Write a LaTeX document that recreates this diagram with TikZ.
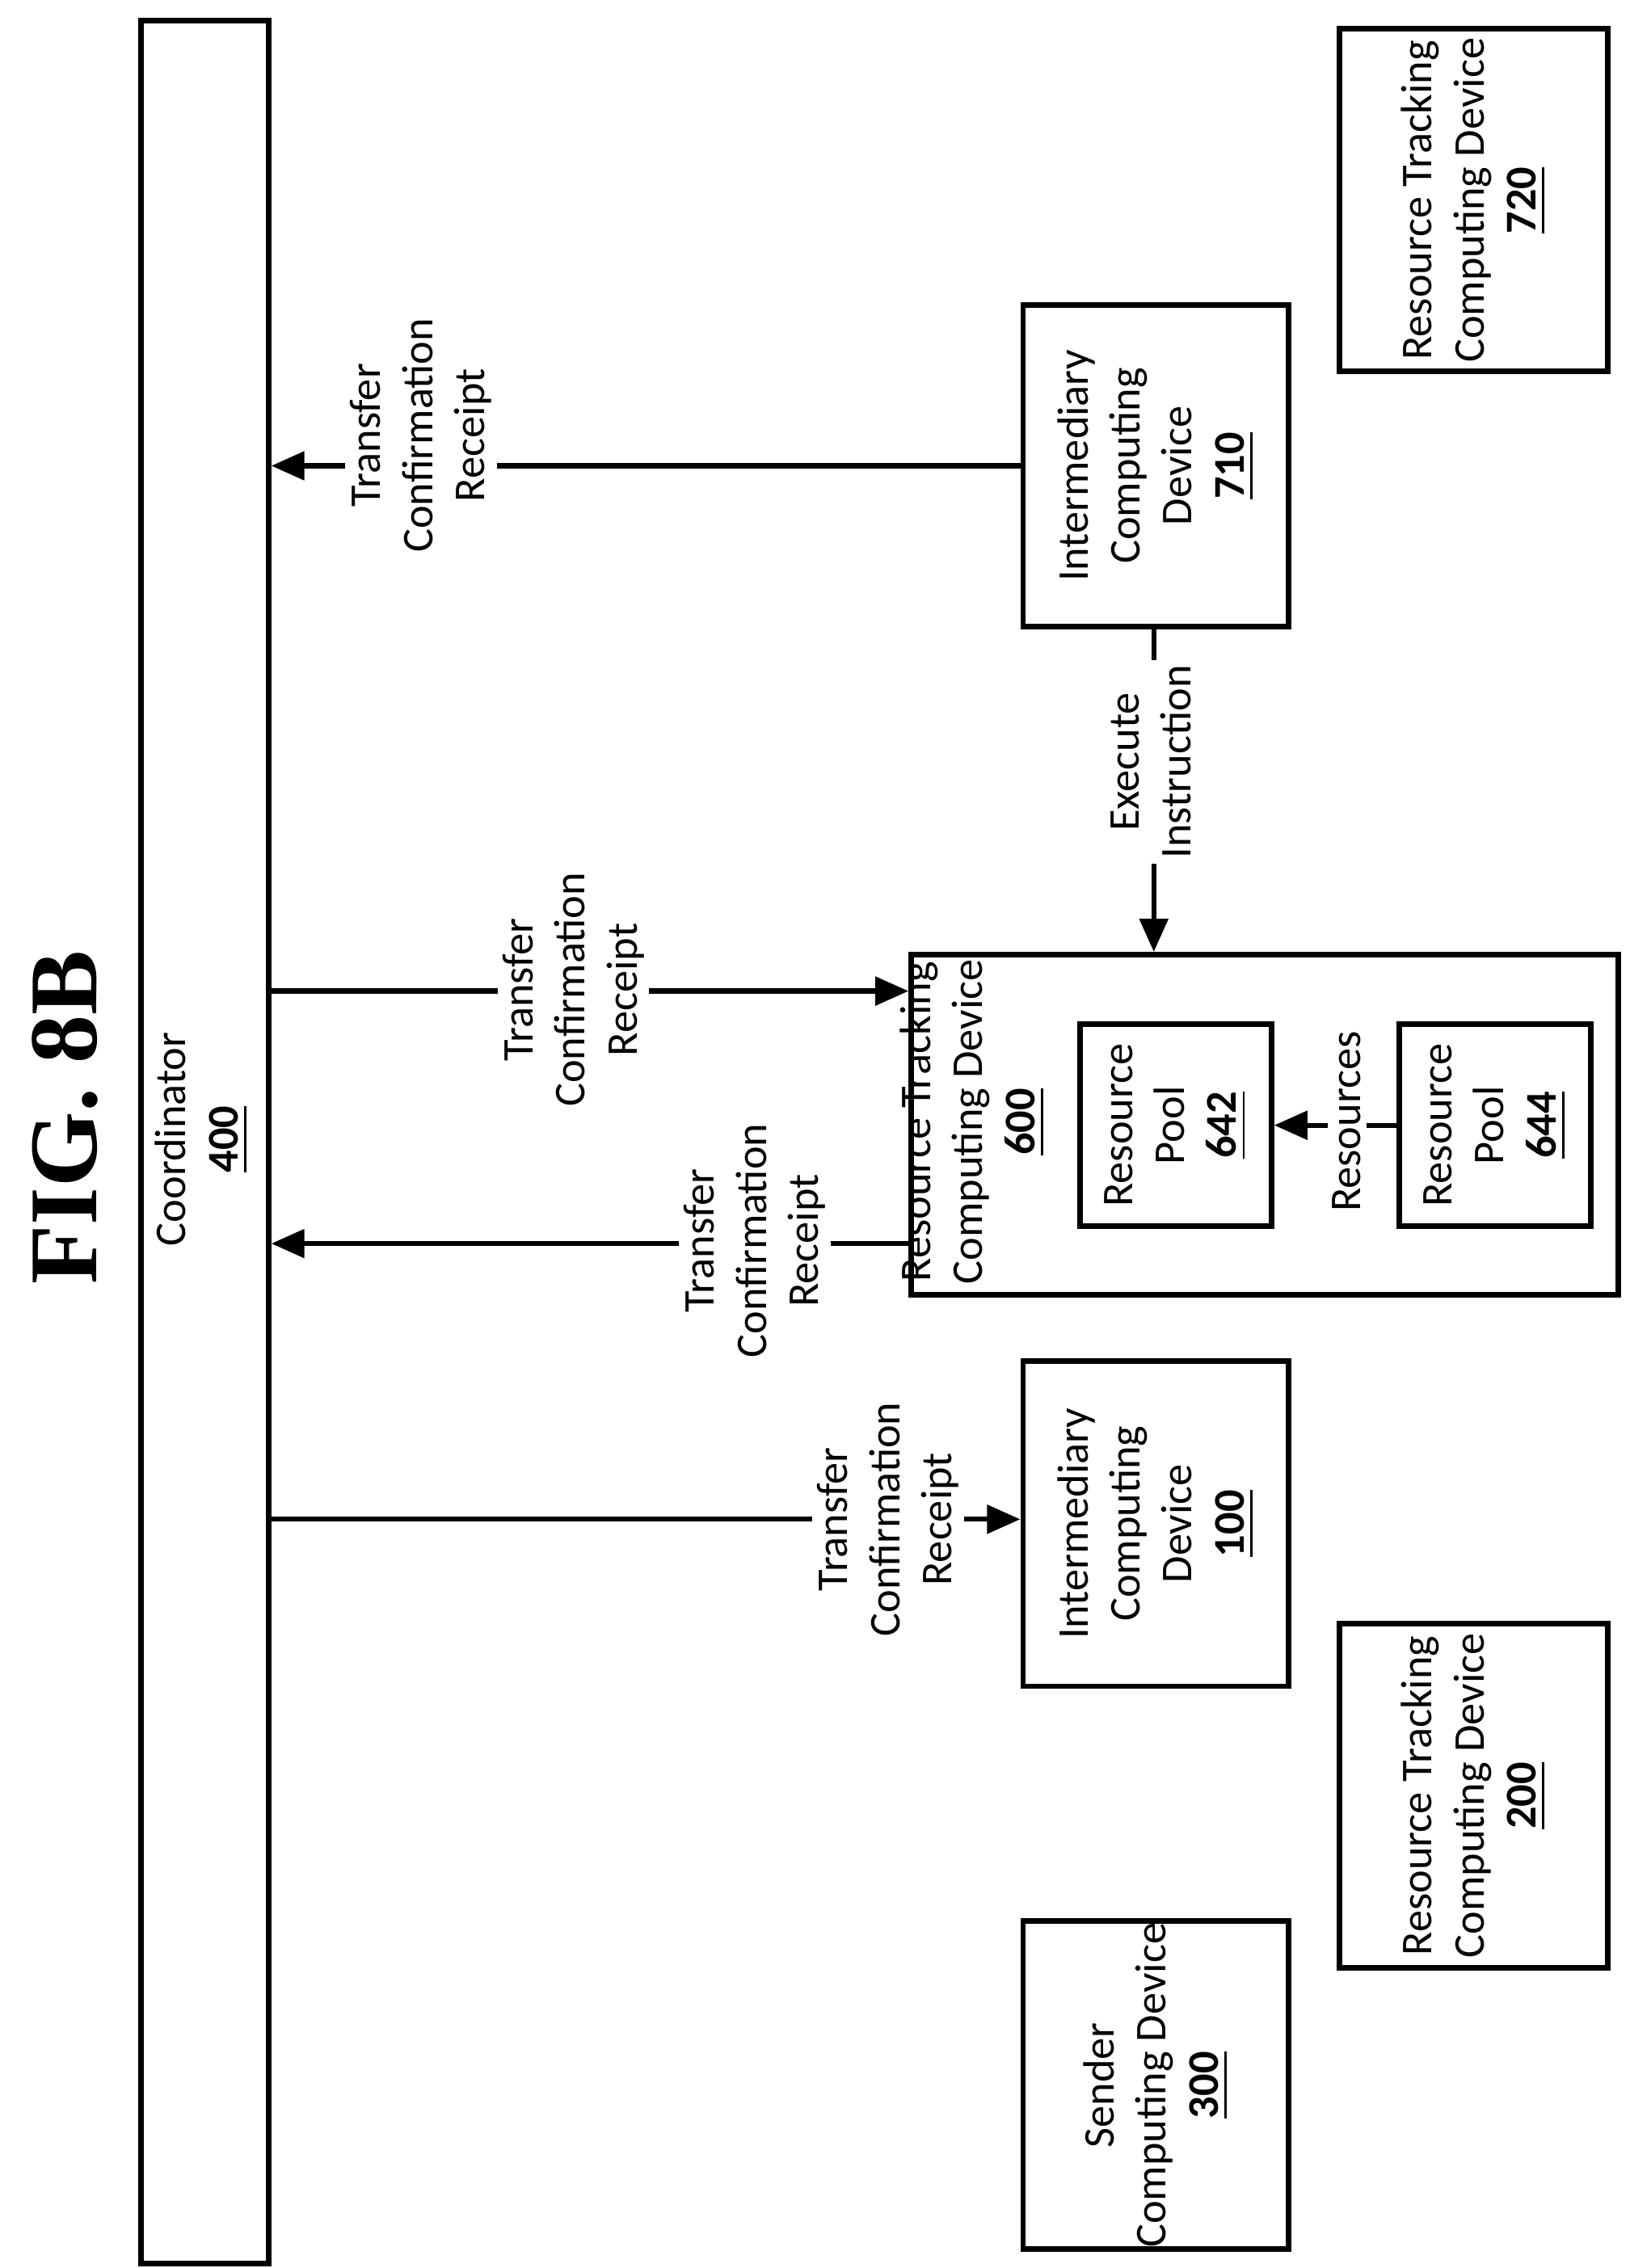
\documentclass[tikz,border=0pt]{standalone}
\usepackage{fontspec}
\setmainfont{Carlito}
\newfontfamily\figfont{Liberation Serif}
\usetikzlibrary{arrows.meta}
\begin{document}
\begin{tikzpicture}[x=0.01cm,y=-0.01cm,
  box/.style={draw,line width=1.1pt,inner sep=0pt,anchor=north west},
  txt/.style={rotate=90,align=center,font=\fontsize{8.6}{10.2}\selectfont,inner sep=1pt},
  lbl/.style={txt,fill=white},
  conn/.style={line width=1pt},
  arr/.style={conn,-{Triangle[length=6.5pt,width=5.5pt]}}]
\useasboundingbox (0,0) rectangle (1123,1563);
\node[rotate=90,font=\figfont\bfseries\fontsize{19}{22}\selectfont] (fig) at (45,770) {FIG. 8B};
\node[box,minimum width=88\pgflinewidth,minimum width=0.88cm,minimum height=15.45cm] (coord) at (95,12) {};
\node[txt] (coordt) at (139,785) {Coordinator\\\underline{\textbf{400}}};
\node[box,minimum width=1.85cm,minimum height=2.36cm] (b720) at (921,18) {};
\node[txt] at (b720.center) {Resource Tracking\\Computing Device\\\underline{\textbf{720}}};
\node[box,minimum width=1.83cm,minimum height=2.22cm] (b710) at (703,208) {};
\node[txt] at (b710.center) {Intermediary\\Computing\\Device\\\underline{\textbf{710}}};
\node[box,minimum width=4.87cm,minimum height=2.34cm] (b600) at (626,656) {};
\node[txt] at (670,773) {Resource Tracking\\Computing Device\\\underline{\textbf{600}}};
\node[box,minimum width=1.32cm,minimum height=1.39cm] (b642) at (742,704) {};
\node[txt] at (b642.center) {Resource\\Pool\\\underline{\textbf{642}}};
\node[box,minimum width=1.32cm,minimum height=1.39cm] (b644) at (962,704) {};
\node[txt] at (b644.center) {Resource\\Pool\\\underline{\textbf{644}}};
\node[box,minimum width=1.83cm,minimum height=2.24cm] (b100) at (703,936) {};
\node[txt] at (b100.center) {Intermediary\\Computing\\Device\\\underline{\textbf{100}}};
\node[box,minimum width=1.85cm,minimum height=2.37cm] (b200) at (921,1117) {};
\node[txt] at (b200.center) {Resource Tracking\\Computing Device\\\underline{\textbf{200}}};
\node[box,minimum width=1.83cm,minimum height=2.26cm] (b300) at (703,1322) {};
\node[txt] at (b300.center) {Sender\\Computing Device\\\underline{\textbf{300}}};
% connectors
\coordinate (c1) at (coord.east |- b710.west);
\draw[arr] (b710.west) -- (c1);
\node[lbl] at (290,300) {Transfer\\Confirmation\\Receipt};
\coordinate (c2) at (coord.east |- 0,683);
\draw[arr] (c2) -- (c2 -| b600.west);
\node[lbl] at (395,682) {Transfer\\Confirmation\\Receipt};
\coordinate (c3) at (b600.west |- 0,857);
\draw[arr] (c3) -- (c3 -| coord.east);
\node[lbl] at (520,855) {Transfer\\Confirmation\\Receipt};
\coordinate (c4) at (coord.east |- 0,1047);
\draw[arr] (c4) -- (c4 -| b100.west);
\node[lbl] at (612,1047) {Transfer\\Confirmation\\Receipt};
\coordinate (c5) at (795,0);
\draw[arr] (c5 |- b710.south) -- (c5 |- b600.north);
\node[lbl] at (793,525) {Execute\\Instruction};
\draw[arr] (b644.west) -- (b642.east);
\node[lbl] at (928,773) {Resources};
\end{tikzpicture}
\end{document}
